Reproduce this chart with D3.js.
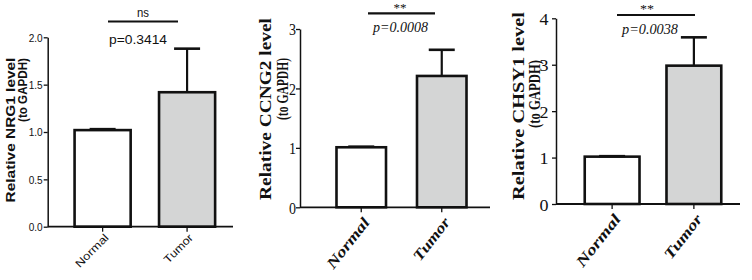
<!DOCTYPE html>
<html><head><meta charset="utf-8">
<script src="https://cdn.jsdelivr.net/npm/d3@7"></script>
<style>body{margin:0;background:#fff}svg{display:block}</style>
</head><body>
<svg id="c" width="752" height="280"></svg>
<script>
// ---- data ----
const categories = ["Normal", "Tumor"];
const nrg1Means = [1.02, 1.42];
const nrg1Errors = [0.01, 0.46];
const ccng2Means = [1.01, 2.21];
const ccng2Errors = [0.01, 0.44];
const chsy1Means = [1.02, 2.98];
const chsy1Errors = [0.01, 0.61];
const nrg1Ticks = ["0.0", "0.5", "1.0", "1.5", "2.0"];
const ccng2Ticks = ["0", "1", "2", "3"];
const chsy1Ticks = ["0", "1", "2", "3", "4"];
const geneNames = ["NRG1", "CCNG2", "CHSY1"];
const sigLabels = ["ns", "**", "**"];
const pLabels = ["p=0.3414", "p=0.0008", "p=0.0038"];

const svg = d3.select("#c");
const fills = ["#ffffff", "#d4d5d5"];

const panels = [
  { means: nrg1Means, errs: nrg1Errors, ticks: nrg1Ticks, max: 2, gene: geneNames[0], sig: sigLabels[0], p: pLabels[0],
    font: "'Liberation Sans',Arial,sans-serif", labelFont: "'Liberation Sans',Arial,sans-serif",
    axisX: 47.7, axisEnd: 233, y0: 226.7, yTop: 37.3, xr: [46.2, 243.5], pad: 0.336,
    tickFs: 11, tickDx: -5, tickLen: 14, catFs: 11, catRot: -45, catLen: [42, 36], catDy: 9, catDx: 4, catItalic: false, catBold: false,
    lab1: { x: 10, c: 130, len: 145, fs: 13 }, lab2: { x: 22, c: 90, len: 64, fs: 13 },
    sigY: 17, sigFs: 13, lineY: 21.5, lineX: [108, 178], sigX: 143, pX: 138, pY: 44, pFs: 13, pItalic: false, pLen: 58, sigLen: 12 },
  { means: ccng2Means, errs: ccng2Errors, ticks: ccng2Ticks, max: 3, gene: geneNames[1], sig: sigLabels[1], p: pLabels[1],
    font: "'Liberation Serif','Times New Roman',serif", labelFont: "'Liberation Serif','Times New Roman',serif",
    axisX: 300, axisEnd: 490, y0: 207.3, yTop: 29, xr: [305.5, 497.5], pad: 0.385,
    tickFs: 16, tickDx: -4, tickLen: 7, catFs: 15, catRot: -52, catLen: [60, 50], catDy: 12, catDx: 5, catItalic: true, catBold: true,
    lab1: { x: 265, c: 109, len: 182, fs: 16 }, lab2: { x: 282, c: 89, len: 62, fs: 16 },
    sigY: 12, sigFs: 13, lineY: 13.3, lineX: [368, 435], sigX: 400, pX: 400.5, pY: 32, pFs: 15, pItalic: true, pLen: 55, sigLen: 13 },
  { means: chsy1Means, errs: chsy1Errors, ticks: chsy1Ticks, max: 4, gene: geneNames[2], sig: sigLabels[2], p: pLabels[2],
    font: "'Liberation Serif','Times New Roman',serif", labelFont: "'Liberation Serif','Times New Roman',serif",
    axisX: 556, axisEnd: 740, y0: 204, yTop: 18.3, xr: [557.75, 748.25], pad: 0.33,
    tickFs: 17, tickDx: -7.5, tickLen: 9, catFs: 15, catRot: -52, catLen: [62, 52], catDy: 12, catDx: 5, catItalic: true, catBold: true,
    lab1: { x: 518, c: 106, len: 188, fs: 16 }, lab2: { x: 534, c: 94, len: 68, fs: 16 },
    sigY: 13, sigFs: 13, lineY: 15, lineX: [617, 695], sigX: 647, pX: 650, pY: 34, pFs: 15, pItalic: true, pLen: 56, sigLen: 14 }
];

panels.forEach(P => {
  const g = svg.append("g");
  const x = d3.scaleBand().domain(categories).range(P.xr).padding(P.pad);
  const y = d3.scaleLinear().domain([0, P.max]).range([P.y0, P.yTop]);
  const tickVals = P.ticks.map(Number);

  // bars
  g.selectAll("rect.bar").data(categories).join("rect")
    .attr("x", d => x(d)).attr("width", x.bandwidth())
    .attr("y", (d, i) => y(P.means[i])).attr("height", (d, i) => P.y0 - y(P.means[i]))
    .attr("fill", (d, i) => fills[i]).attr("stroke", "#111").attr("stroke-width", 2.6);

  // error bars
  const capW = 26;
  categories.forEach((c, i) => {
    const cx = x(c) + x.bandwidth() / 2;
    const top = y(P.means[i] + P.errs[i]);
    g.append("line").attr("x1", cx).attr("x2", cx).attr("y1", y(P.means[i])).attr("y2", top)
      .attr("stroke", "#111").attr("stroke-width", 2.2);
    g.append("line").attr("x1", cx - capW / 2).attr("x2", cx + capW / 2).attr("y1", top).attr("y2", top)
      .attr("stroke", "#111").attr("stroke-width", 2.6);
  });

  // y axis
  const ya = g.append("g").attr("transform", `translate(${P.axisX},0)`)
    .call(d3.axisLeft(y).tickValues(tickVals).tickFormat((d, i) => P.ticks[i]).tickSize(4).tickSizeOuter(0));
  ya.select(".domain").attr("stroke", "#111").attr("stroke-width", 1.5);
  ya.selectAll(".tick line").attr("stroke", "#111").attr("stroke-width", 1.3);
  ya.selectAll(".tick text").attr("font-family", P.font).attr("font-size", P.tickFs).attr("fill", "#111")
    .attr("x", P.tickDx).attr("dy", "0.36em")
    .attr("textLength", P.tickLen).attr("lengthAdjust", "spacingAndGlyphs");

  // x axis
  g.append("line").attr("x1", P.axisX).attr("x2", P.axisEnd).attr("y1", P.y0).attr("y2", P.y0)
    .attr("stroke", "#111").attr("stroke-width", 1.8);
  categories.forEach((c, i) => {
    const cx = x(c) + x.bandwidth() / 2;
    g.append("line").attr("x1", cx).attr("x2", cx).attr("y1", P.y0).attr("y2", P.y0 + 5)
      .attr("stroke", "#111").attr("stroke-width", 1.3);
    g.append("text").text(c)
      .attr("transform", `translate(${cx + P.catDx},${P.y0 + P.catDy}) rotate(${P.catRot})`)
      .attr("text-anchor", "end").attr("dy", "0.35em")
      .attr("font-family", P.labelFont).attr("font-size", P.catFs)
      .attr("font-style", P.catItalic ? "italic" : "normal").attr("font-weight", P.catBold ? "bold" : "normal")
      .attr("textLength", P.catLen[i]).attr("lengthAdjust", "spacingAndGlyphs").attr("fill", "#111");
  });

  // y label: compress horizontally via explicit scale so glyph height stays
  [[P.lab1, `Relative ${P.gene} level`], [P.lab2, "(to GAPDH)"]].forEach(([L, t]) => {
    const tx = g.append("text").text(t)
      .attr("text-anchor", "middle").attr("dy", "0.35em")
      .attr("font-family", P.labelFont).attr("font-weight", "bold").attr("font-size", L.fs)
      .attr("fill", "#111");
    const nat = tx.node().getComputedTextLength();
    const k = L.len / nat;
    tx.attr("transform", `translate(${L.x},${L.c}) rotate(-90) scale(${k},1)`);
  });

  // significance
  g.append("line").attr("x1", P.lineX[0]).attr("x2", P.lineX[1]).attr("y1", P.lineY).attr("y2", P.lineY)
    .attr("stroke", "#111").attr("stroke-width", 2.2);
  g.append("text").text(P.sig).attr("x", P.sigX).attr("y", P.sigY).attr("text-anchor", "middle")
    .attr("font-family", P.font).attr("font-size", P.sigFs).attr("fill", "#111")
    .attr("textLength", P.sigLen).attr("lengthAdjust", "spacingAndGlyphs");
  g.append("text").text(P.p).attr("x", P.pX).attr("y", P.pY).attr("text-anchor", "middle")
    .attr("font-family", P.font).attr("font-size", P.pFs).attr("font-style", P.pItalic ? "italic" : "normal")
    .attr("textLength", P.pLen).attr("lengthAdjust", "spacingAndGlyphs").attr("fill", "#111");
});
</script>
</body></html>
